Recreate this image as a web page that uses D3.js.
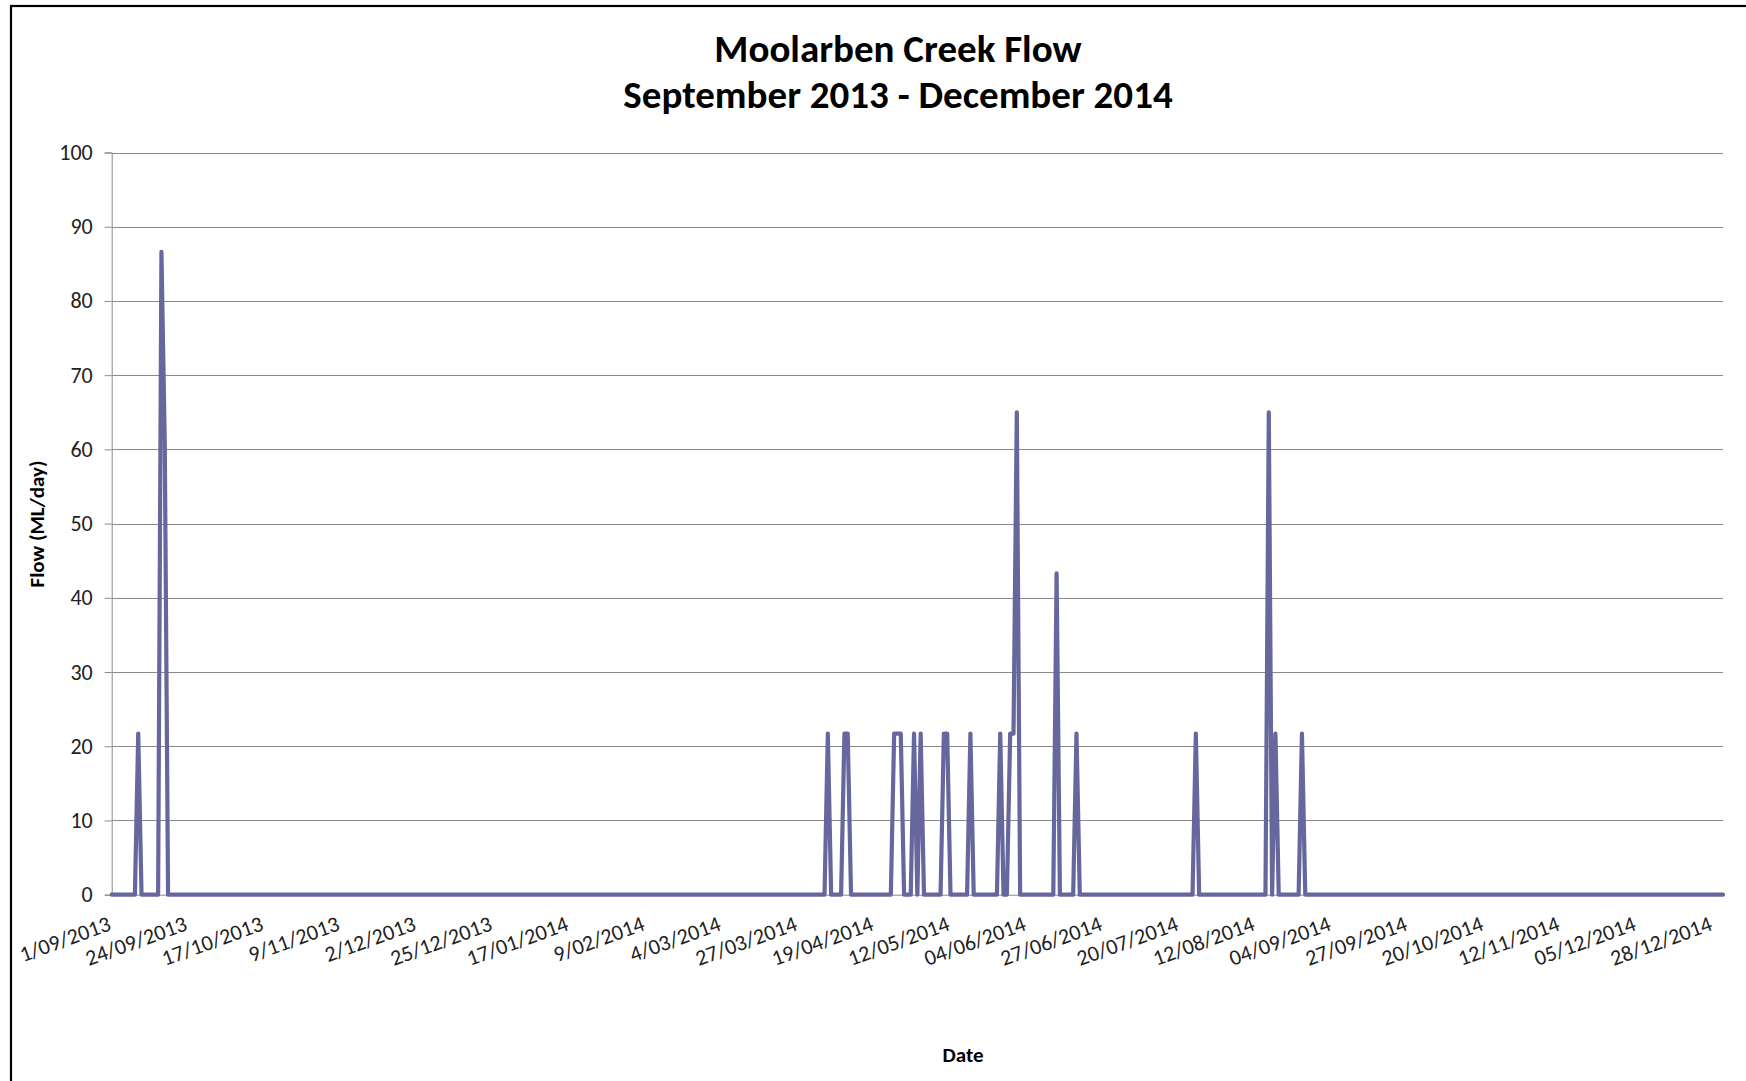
<!DOCTYPE html>
<html>
<head>
<meta charset="utf-8">
<script src="https://cdn.jsdelivr.net/npm/d3@7"></script>
<style>
  html, body { margin: 0; padding: 0; background: #fff; overflow: hidden; }
  text { font-family: Calibri, Carlito, Lato, sans-serif; }
</style>
</head>
<body>
<div id="chart"></div>
<script>
const width = 1746;
const height = 1081;

// series runs daily over this span; days not listed below read as 0 ML/day
const startDay = "1/09/2013";
const endDay = "31/12/2014";

// days with flow
const flowDays = [
  "9/09/2013", "16/09/2013", "17/09/2013",
  "5/04/2014", "10/04/2014", "11/04/2014",
  "25/04/2014", "26/04/2014", "27/04/2014",
  "1/05/2014", "3/05/2014", "10/05/2014", "11/05/2014",
  "18/05/2014", "27/05/2014", "30/05/2014", "31/05/2014", "1/06/2014",
  "13/06/2014", "19/06/2014", "25/07/2014",
  "16/08/2014", "18/08/2014", "26/08/2014"
];
const flowValues = [
  21.7, 86.6, 61,
  21.7, 21.7, 21.7,
  21.7, 21.7, 21.7,
  21.7, 21.7, 21.7, 21.7,
  21.7, 21.7, 21.7, 21.7, 65,
  43.3, 21.7, 21.7,
  65, 21.7, 21.7
];

const xTickLabels = [
  "1/09/2013", "24/09/2013", "17/10/2013", "9/11/2013", "2/12/2013",
  "25/12/2013", "17/01/2014", "9/02/2014", "4/03/2014", "27/03/2014",
  "19/04/2014", "12/05/2014", "04/06/2014", "27/06/2014", "20/07/2014",
  "12/08/2014", "04/09/2014", "27/09/2014", "20/10/2014", "12/11/2014",
  "05/12/2014", "28/12/2014"
];
const yTicks = [0, 10, 20, 30, 40, 50, 60, 70, 80, 90, 100];

const parseDay = d3.utcParse("%d/%m/%Y");

// plot box
const plotLeft = 111.7, plotRight = 1723, plotTop = 152.5, plotBottom = 894.7;

const svg = d3.select("#chart")
  .append("svg")
  .attr("width", width)
  .attr("height", height);

// chart area border (runs off the right and bottom edges)
svg.append("rect")
  .attr("x", 11)
  .attr("y", 6)
  .attr("width", 1800)
  .attr("height", 1200)
  .attr("fill", "#fff")
  .attr("stroke", "#000")
  .attr("stroke-width", 2.2);

const x = d3.scaleUtc()
  .domain([parseDay(startDay), parseDay(endDay)])
  .range([plotLeft, plotRight]);

const y = d3.scaleLinear()
  .domain([0, 100])
  .range([plotBottom, plotTop]);

// gridlines
svg.append("g")
  .selectAll("line")
  .data(yTicks.filter(d => d > 0))
  .join("line")
  .attr("x1", plotLeft)
  .attr("x2", plotRight)
  .attr("y1", d => Math.round(y(d)) + 0.5)
  .attr("y2", d => Math.round(y(d)) + 0.5)
  .attr("stroke", "#8a8a8a")
  .attr("stroke-width", 1);

// y axis
const yAxis = svg.append("g")
  .attr("transform", `translate(${plotLeft},0)`)
  .call(d3.axisLeft(y).tickValues(yTicks).tickSize(7).tickPadding(12));
yAxis.select(".domain").attr("stroke", "#8a8a8a");
yAxis.selectAll(".tick line").attr("stroke", "#8a8a8a");
yAxis.selectAll(".tick text")
  .attr("font-family", "Calibri, Carlito, Lato, sans-serif")
  .attr("font-size", 22)
  .attr("fill", "#222");

// x axis
const xAxis = svg.append("g")
  .attr("transform", `translate(0,${plotBottom})`)
  .call(d3.axisBottom(x)
    .tickValues(xTickLabels.map(parseDay))
    .tickFormat((d, i) => xTickLabels[i])
    .tickSize(0)
    .tickSizeOuter(0));
xAxis.select(".domain").attr("stroke", "#8a8a8a");
xAxis.selectAll(".tick text")
  .attr("font-family", "Calibri, Carlito, Lato, sans-serif")
  .attr("font-size", 22)
  .attr("fill", "#222")
  .attr("text-anchor", "end")
  .attr("dy", 0)
  .attr("y", 0)
  .attr("transform", "translate(0,35) rotate(-20)");

// daily series
const flowByDay = new Map(flowDays.map((d, i) => [+parseDay(d), flowValues[i]]));
const days = d3.utcDay.range(parseDay(startDay), d3.utcDay.offset(parseDay(endDay), 1));
const series = days.map(d => ({ date: d, flow: flowByDay.get(+d) || 0 }));

const line = d3.line()
  .x(d => x(d.date))
  .y(d => y(d.flow));

svg.append("path")
  .datum(series)
  .attr("d", line)
  .attr("fill", "none")
  .attr("stroke", "#66679d")
  .attr("stroke-width", 4.2)
  .attr("stroke-linejoin", "round")
  .attr("stroke-linecap", "round");

// titles
svg.append("text")
  .attr("x", 898)
  .attr("y", 62)
  .attr("text-anchor", "middle")
  .attr("font-size", 39)
  .attr("font-weight", "bold")
  .attr("fill", "#000")
  .text("Moolarben Creek Flow");

svg.append("text")
  .attr("x", 898)
  .attr("y", 108)
  .attr("text-anchor", "middle")
  .attr("font-size", 39)
  .attr("font-weight", "bold")
  .attr("fill", "#000")
  .text("September 2013 - December 2014");

svg.append("text")
  .attr("transform", "translate(44,524) rotate(-90)")
  .attr("text-anchor", "middle")
  .attr("font-size", 21)
  .attr("font-weight", "bold")
  .attr("fill", "#000")
  .text("Flow (ML/day)");

svg.append("text")
  .attr("x", 963)
  .attr("y", 1062)
  .attr("text-anchor", "middle")
  .attr("font-size", 21)
  .attr("font-weight", "bold")
  .attr("fill", "#000")
  .text("Date");
</script>
</body>
</html>
